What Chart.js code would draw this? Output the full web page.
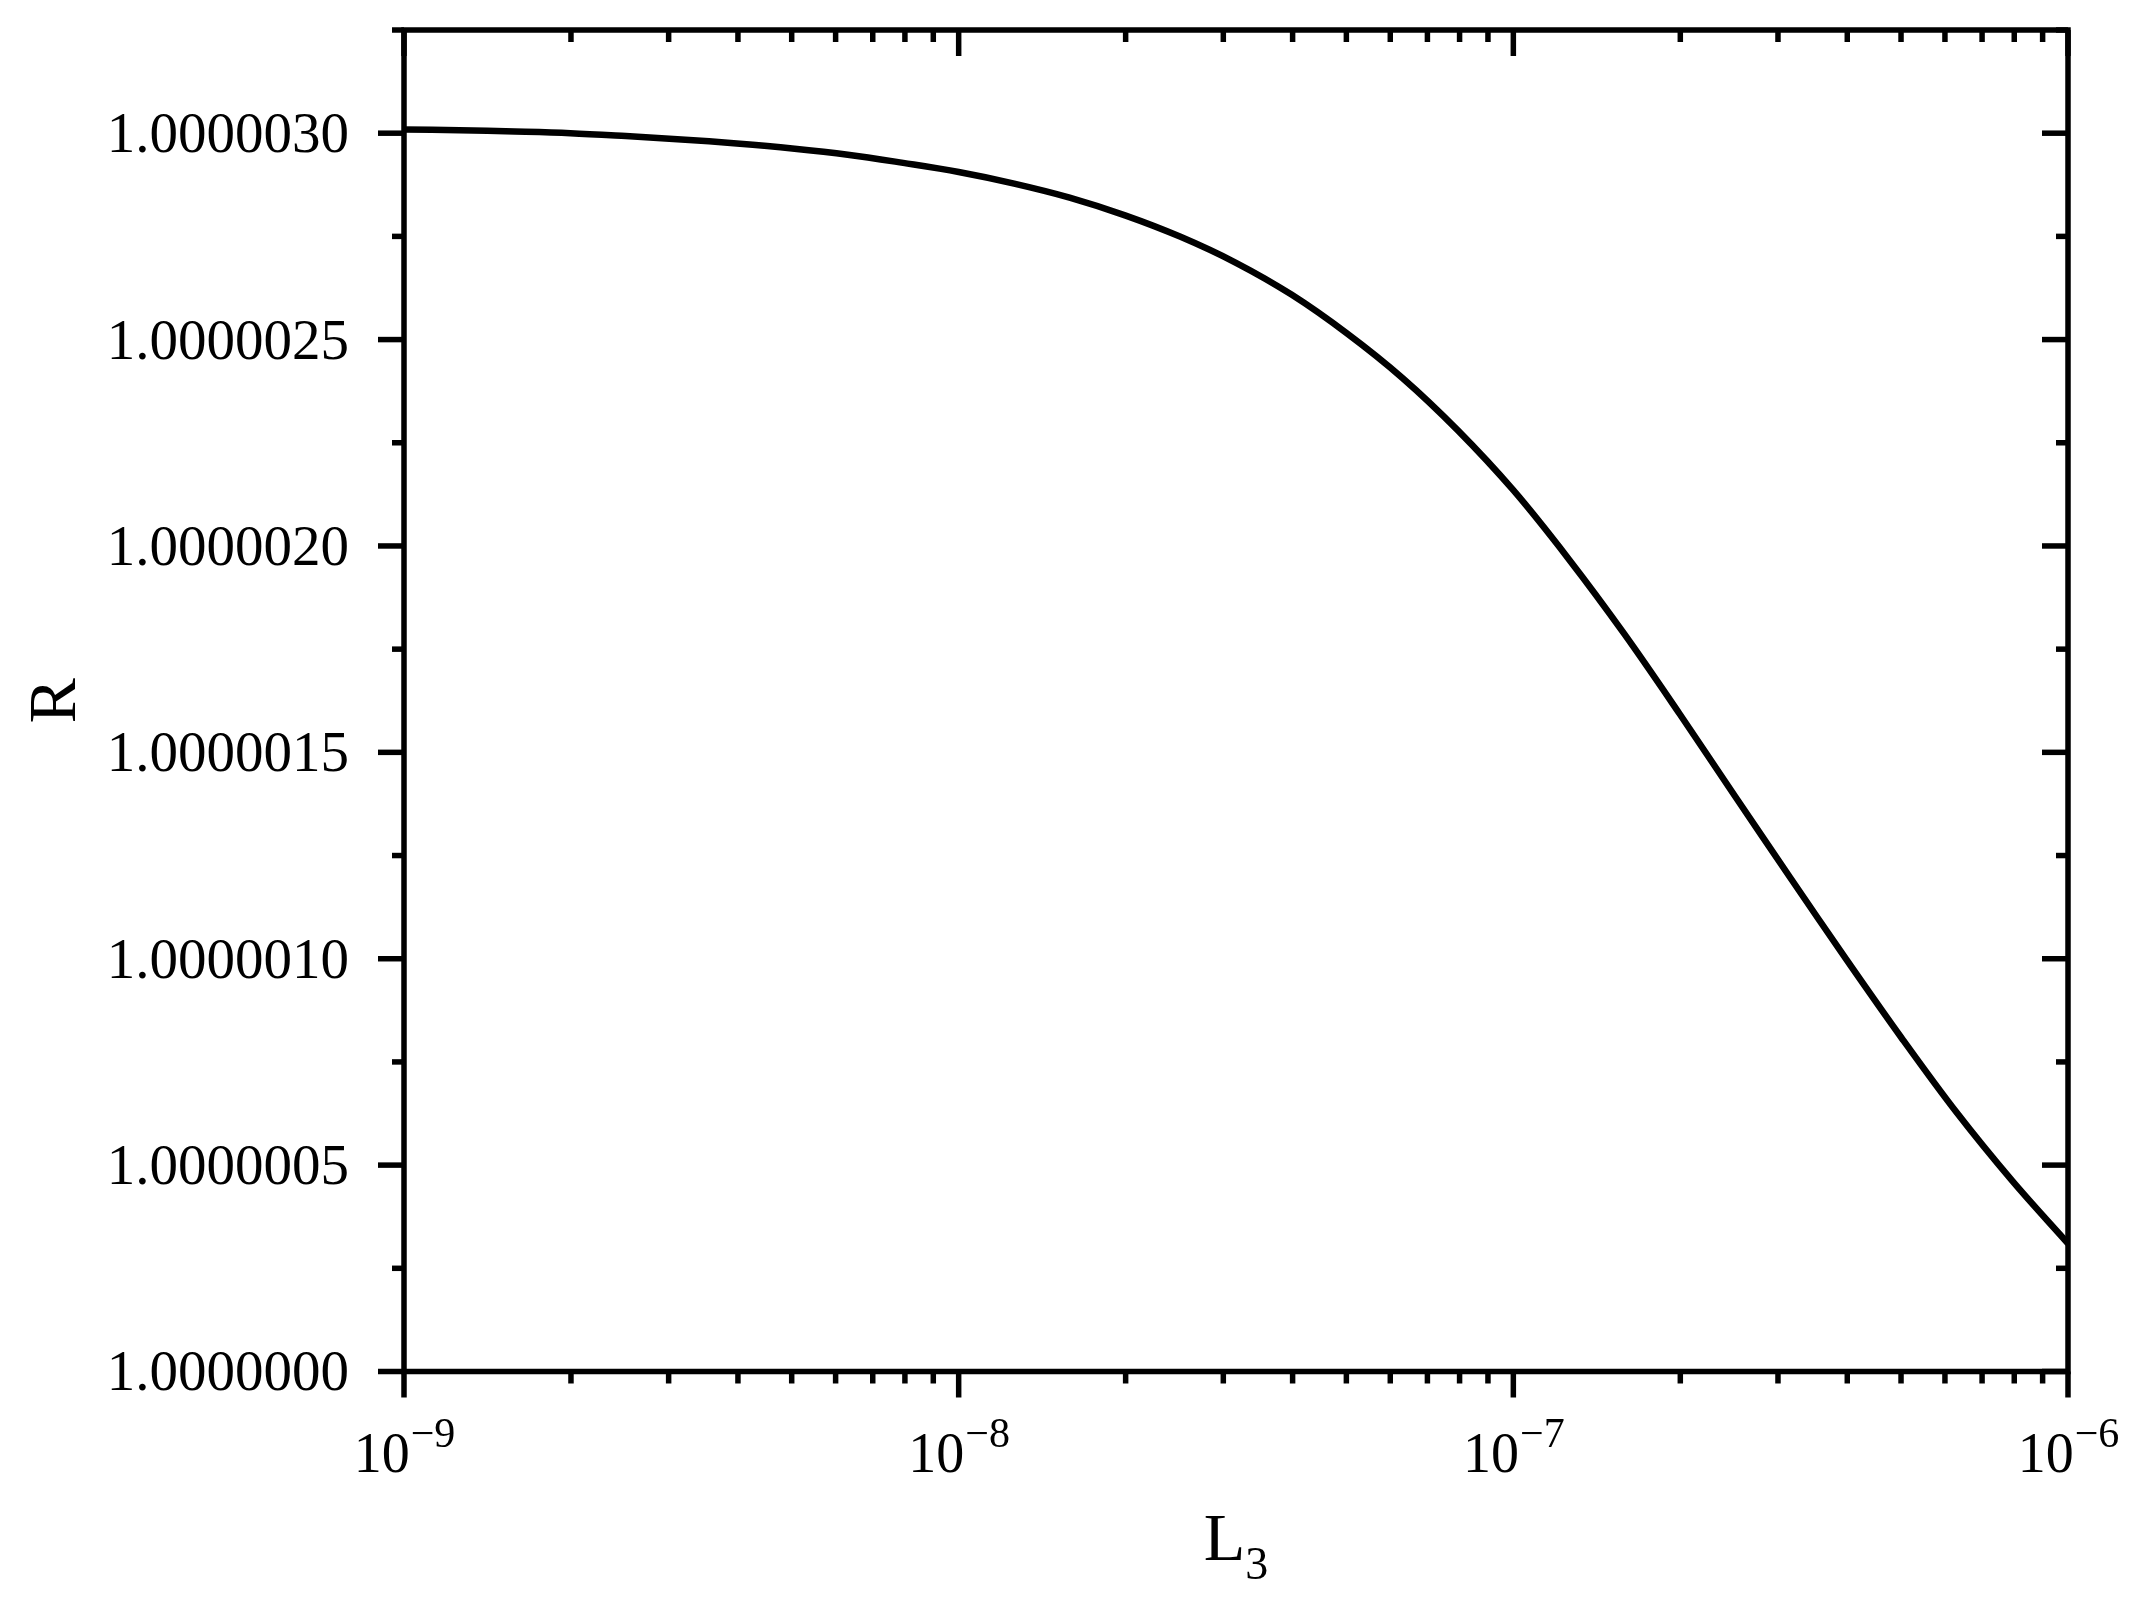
<!DOCTYPE html>
<html>
<head>
<meta charset="utf-8">
<script src="https://cdn.jsdelivr.net/npm/chart.js@4.4.1/dist/chart.umd.min.js"></script>
<style>
  html, body { margin: 0; padding: 0; background: #ffffff; }
  canvas { display: block; }
</style>
</head>
<body>
<canvas id="c" width="2136" height="1609"></canvas>
<script>
// ---- data ----
const L3 = [
  1.000e-9, 1.259e-9, 1.585e-9, 1.995e-9, 2.512e-9, 3.162e-9, 3.981e-9, 5.012e-9, 6.310e-9, 7.943e-9,
  1.000e-8, 1.259e-8, 1.585e-8, 1.995e-8, 2.512e-8, 3.162e-8, 3.981e-8, 5.012e-8, 6.310e-8, 7.943e-8,
  1.000e-7, 1.259e-7, 1.585e-7, 1.995e-7, 2.512e-7, 3.162e-7, 3.981e-7, 5.012e-7, 6.310e-7, 7.943e-7,
  1.000e-6
];
const R = [
  1.000003009, 1.000003007, 1.000003004, 1.000003000, 1.000002993, 1.000002985, 1.000002975, 1.000002963, 1.000002948, 1.000002928,
  1.000002906, 1.000002878, 1.000002844, 1.000002801, 1.000002749, 1.000002686, 1.000002609, 1.000002515, 1.000002407, 1.000002280,
  1.000002135, 1.000001968, 1.000001787, 1.000001593, 1.000001393, 1.000001195, 1.000000999, 1.000000808, 1.000000626, 1.000000461,
  1.000000310
];

// ---- axes ----
const xMin = 1e-9, xMax = 1e-6;
const yMin = 1.0, yMax = 1.00000325;
const yMajorTicks = [1.0000000, 1.0000005, 1.0000010, 1.0000015, 1.0000020, 1.0000025, 1.0000030];
const yMinorTicks = [1.00000025, 1.00000075, 1.00000125, 1.00000175, 1.00000225, 1.00000275, 1.00000325];
const xMajorTicks = [1e-9, 1e-8, 1e-7, 1e-6];
const xMajorExponents = ['\u22129', '\u22128', '\u22127', '\u22126'];
const xMinorTicks = [
  2e-9, 3e-9, 4e-9, 5e-9, 6e-9, 7e-9, 8e-9, 9e-9,
  2e-8, 3e-8, 4e-8, 5e-8, 6e-8, 7e-8, 8e-8, 9e-8,
  2e-7, 3e-7, 4e-7, 5e-7, 6e-7, 7e-7, 8e-7, 9e-7
];
const xTitle = 'L', xTitleSub = '3';
const yTitle = 'R';

const FONT = "'Liberation Serif', 'DejaVu Serif', serif";

const framePlugin = {
  id: 'frameTicks',
  afterDraw(chart) {
    const { ctx, chartArea: a, scales: { x, y } } = chart;
    ctx.save();
    ctx.strokeStyle = '#000';
    ctx.fillStyle = '#000';
    ctx.lineWidth = 5.5;
    ctx.lineCap = 'butt';
    const seg = (x1, y1, x2, y2) => { ctx.beginPath(); ctx.moveTo(x1, y1); ctx.lineTo(x2, y2); ctx.stroke(); };
    const MAJ = 26, MIN = 12;
    yMajorTicks.forEach(v => { const p = y.getPixelForValue(v); seg(a.left - MAJ, p, a.left, p); seg(a.right, p, a.right - MAJ, p); });
    yMinorTicks.forEach(v => { const p = y.getPixelForValue(v); seg(a.left - MIN, p, a.left, p); seg(a.right, p, a.right - MIN, p); });
    xMajorTicks.forEach(v => { const p = x.getPixelForValue(v); seg(p, a.bottom, p, a.bottom + MAJ); seg(p, a.top, p, a.top + MAJ); });
    xMinorTicks.forEach(v => { const p = x.getPixelForValue(v); seg(p, a.bottom, p, a.bottom + MIN); seg(p, a.top, p, a.top + MIN); });
    ctx.lineJoin = 'miter';
    ctx.strokeRect(a.left, a.top, a.right - a.left, a.bottom - a.top);

    // x tick labels 10^n
    ctx.textBaseline = 'alphabetic';
    ctx.textAlign = 'left';
    xMajorTicks.forEach((v, i) => {
      const p = x.getPixelForValue(v);
      ctx.font = `56px ${FONT}`;
      const wb = ctx.measureText('10').width;
      ctx.font = `42px ${FONT}`;
      const we = ctx.measureText(xMajorExponents[i]).width;
      const start = p - (wb + we) / 2;
      ctx.font = `56px ${FONT}`;
      ctx.fillText('10', start, a.bottom + 100);
      ctx.font = `42px ${FONT}`;
      ctx.fillText(xMajorExponents[i], start + wb + 1, a.bottom + 75);
    });

    // x title L_3
    ctx.font = `68px ${FONT}`;
    const wl = ctx.measureText(xTitle).width;
    ctx.font = `46px ${FONT}`;
    const ws = ctx.measureText(xTitleSub).width;
    const cx = (a.left + a.right) / 2;
    const sx = cx - (wl + ws) / 2;
    ctx.font = `68px ${FONT}`;
    ctx.fillText(xTitle, sx, 1560);
    ctx.font = `46px ${FONT}`;
    ctx.fillText(xTitleSub, sx + wl, 1579);

    // y title R
    ctx.save();
    ctx.translate(75, (a.top + a.bottom) / 2);
    ctx.rotate(-Math.PI / 2);
    ctx.textAlign = 'center';
    ctx.font = `68px ${FONT}`;
    ctx.fillText(yTitle, 0, 0);
    ctx.restore();

    ctx.restore();
  }
};

new Chart(document.getElementById('c'), {
  type: 'line',
  data: {
    datasets: [{
      data: L3.map((v, i) => ({ x: v, y: R[i] })),
      borderColor: '#000',
      borderWidth: 6.5,
      pointRadius: 0,
      fill: false,
      tension: 0.35
    }]
  },
  options: {
    responsive: false,
    devicePixelRatio: 1,
    animation: false,
    layout: { padding: { top: 30, right: 68, left: 0, bottom: 0 } },
    plugins: { legend: { display: false }, tooltip: { enabled: false } },
    scales: {
      x: {
        type: 'logarithmic',
        min: xMin, max: xMax,
        grid: { display: false },
        border: { display: false },
        ticks: { display: false },
        afterFit(s) { s.height = 237.5; s.paddingLeft = 0; s.paddingRight = 0; }
      },
      y: {
        type: 'linear',
        min: yMin, max: yMax,
        grid: { display: false },
        border: { display: false },
        afterBuildTicks(s) { s.ticks = yMajorTicks.map(v => ({ value: v })); },
        ticks: {
          color: '#000',
          padding: 47,
          labelOffset: 4,
          font: { family: FONT, size: 57 },
          callback: v => Number(v).toFixed(7)
        },
        afterFit(s) { s.width = 404; s.paddingTop = 0; s.paddingBottom = 0; }
      }
    }
  },
  plugins: [framePlugin]
});
</script>
</body>
</html>
